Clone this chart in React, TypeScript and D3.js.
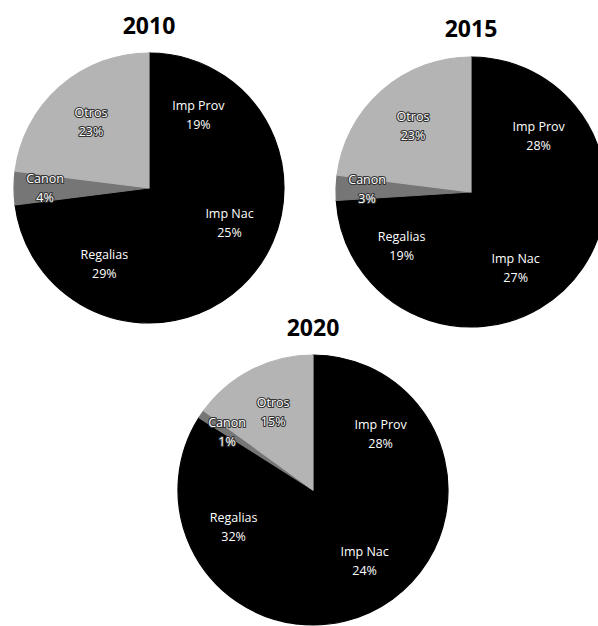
import React from "react";
import * as d3 from "d3";

const categories = ["Imp Prov", "Imp Nac", "Regalias", "Canon", "Otros"];
const years = ["2010", "2015", "2020"];
const values2010 = [19, 25, 29, 4, 23];
const values2015 = [28, 27, 19, 3, 23];
const values2020 = [28, 24, 32, 1, 15];
const seriesValues = [values2010, values2015, values2020];

const sliceColors = ["#000000", "#000000", "#000000", "#767676", "#b4b4b4"];

const W = 598;
const H = 626;
const panels = [
  { cx: 149, cy: 188, r: 135, titleY: 34 },
  { cx: 471, cy: 192, r: 135, titleY: 37 },
  { cx: 313, cy: 490, r: 135, titleY: 336 },
];

function Pie({ values, year, p }: { values: number[]; year: string; p: { cx: number; cy: number; r: number; titleY: number } }) {
  const pie = d3
    .pie<number>()
    .sort(null)
    .value((d) => d)
    .startAngle(0)
    .endAngle(2 * Math.PI);
  const arcs = pie(values);
  const arc = d3.arc<d3.PieArcDatum<number>>().innerRadius(0).outerRadius(p.r);
  const total = d3.sum(values);
  return (
    <g>
      <text
        x={p.cx}
        y={p.titleY}
        textAnchor="middle"
        fontFamily="'Open Sans', sans-serif"
        fontWeight="bold"
        fontSize={23}
        fill="#000"
      >
        {year}
      </text>
      <g transform={`translate(${p.cx},${p.cy})`}>
        {arcs.map((a, i) => (
          <path
            key={i}
            d={arc(a) || ""}
            fill={sliceColors[i]}
            stroke={sliceColors[i]}
            strokeWidth={1.2}
            strokeLinejoin="round"
          />
        ))}
        {arcs.map((a, i) => {
          const mid = (a.startAngle + a.endAngle) / 2;
          const share = a.value / total;
          const k = share < 0.06 ? 0.77 : 0.65;
          const x = Math.sin(mid) * p.r * k;
          const y = -Math.cos(mid) * p.r * k;
          const onGray = sliceColors[i] !== "#000000";
          return (
            <text
              key={"l" + i}
              x={x}
              y={y}
              textAnchor="middle"
              fontFamily="'Open Sans', sans-serif"
              fontSize={12.5}
              fill="#ffffff"
              stroke={onGray ? "#333333" : "none"}
              strokeWidth={onGray ? 2.2 : 0}
              strokeLinejoin="round"
              style={{ paintOrder: "stroke" }}
            >
              <tspan x={x} y={y - 5}>{categories[i]}</tspan>
              <tspan x={x} y={y + 14}>{`${a.value}%`}</tspan>
            </text>
          );
        })}
      </g>
    </g>
  );
}

export default function App() {
  return (
    <svg
      width={W}
      height={H}
      viewBox={`0 0 ${W} ${H}`}
      style={{ position: "absolute", left: 0, top: 0, background: "#fff", display: "block" }}
    >
      <rect x={0} y={0} width={W} height={H} fill="#fff" />
      {seriesValues.map((vals, i) => (
        <Pie key={years[i]} values={vals} year={years[i]} p={panels[i]} />
      ))}
    </svg>
  );
}
